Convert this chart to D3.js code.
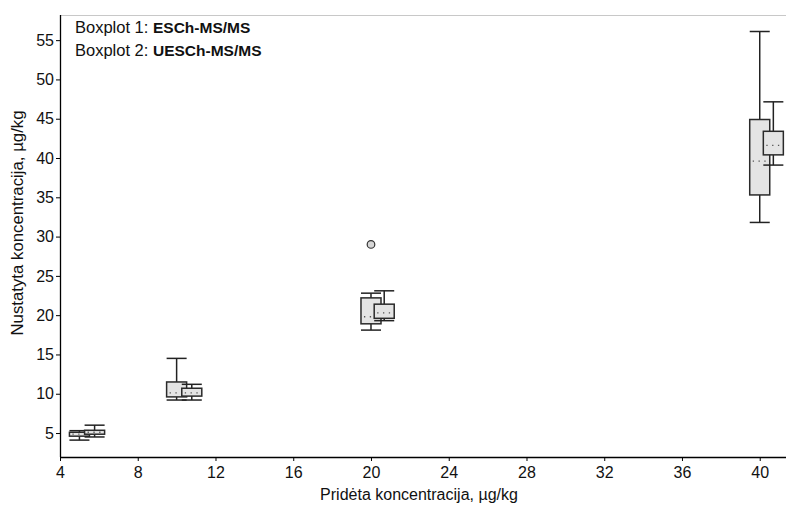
<!DOCTYPE html>
<html>
<head>
<meta charset="utf-8">
<script src="https://cdn.jsdelivr.net/npm/d3@7/dist/d3.min.js"></script>
<style>
  html, body { margin: 0; padding: 0; background: #fff; }
  svg { display: block; font-family: "Liberation Sans", Arial, sans-serif; }
</style>
</head>
<body>
<svg id="chart" width="786" height="507"></svg>
<script>
// Spiked concentration levels (µg/kg) and where each method's box sits on the x axis
const spikedLevels = [5, 10, 20, 40];
const positionsESCh = [5, 10, 20, 40];
const positionsUESCh = [5.78, 10.78, 20.68, 40.7];

// Five-number summaries: [lower whisker, Q1, median, Q3, upper whisker]
const statsESCh = [
  [4.1, 4.6, 4.85, 5.1, 5.3],
  [9.2, 9.6, 10.1, 11.5, 14.5],
  [18.1, 18.9, 19.8, 22.2, 22.8],
  [31.8, 35.3, 39.6, 44.9, 56.1]
];
const statsUESCh = [
  [4.5, 4.85, 5.1, 5.35, 6.0],
  [9.2, 9.7, 10.1, 10.7, 11.2],
  [19.3, 19.6, 20.3, 21.4, 23.1],
  [39.1, 40.4, 41.6, 43.4, 47.15]
];
// Outliers: [x position, value]
const outliersESCh = [[20, 29.0]];
const outliersUESCh = [];

const xTicks = [4, 8, 12, 16, 20, 24, 28, 32, 36, 40];
const yTicks = [5, 10, 15, 20, 25, 30, 35, 40, 45, 50, 55];

const svg = d3.select("#chart");
const plotLeft = 60, plotRight = 785, plotTop = 15, plotBottom = 457;

const x = d3.scaleLinear().domain([4, 41.3]).range([plotLeft, plotRight]);
const y = d3.scaleLinear().domain([1.95, 58.2]).range([plotBottom, plotTop]);

const boxW = x(4 + 1.03) - x(4);

// Light frame line along the top of the plot
svg.append("line")
  .attr("x1", plotLeft).attr("x2", 786)
  .attr("y1", plotTop + 0.5).attr("y2", plotTop + 0.5)
  .attr("stroke", "#c8c8c8").attr("stroke-width", 1);

// Axes
const xAxis = svg.append("g")
  .attr("transform", `translate(0,${plotBottom})`)
  .call(d3.axisBottom(x).tickValues(xTicks).tickSize(4).tickSizeOuter(0));
const yAxis = svg.append("g")
  .attr("transform", `translate(${plotLeft},0)`)
  .call(d3.axisLeft(y).tickValues(yTicks).tickSize(4).tickSizeOuter(0));

[xAxis, yAxis].forEach(a => {
  a.select(".domain").attr("stroke", "#000").attr("stroke-width", 1.3);
  a.selectAll(".tick line").attr("stroke", "#000");
  a.selectAll(".tick text")
    .attr("fill", "#111")
    .style("font-size", "16px")
    .style("font-family", "'Liberation Sans', Arial, sans-serif");
});
xAxis.selectAll(".tick text").attr("dy", "0.85em");
yAxis.selectAll(".tick text").attr("x", -6);
yAxis.select(".domain").attr("d", `M0.5,${plotTop}V${plotBottom}`);
xAxis.select(".domain").attr("d", `M${plotLeft},0.5H786`);

// Axis titles
svg.append("text")
  .attr("x", 419).attr("y", 500)
  .attr("text-anchor", "middle")
  .style("font-size", "16px").attr("fill", "#111")
  .text("Pridėta koncentracija, µg/kg");
svg.append("text")
  .attr("transform", `translate(23,223) rotate(-90)`)
  .attr("text-anchor", "middle")
  .style("font-size", "16.8px").attr("fill", "#111")
  .text("Nustatyta koncentracija, µg/kg");

// One box-and-whisker per level
function drawBoxes(positions, stats, outliers) {
  const g = svg.append("g");
  positions.forEach((px, i) => {
    const [lo, q1, med, q3, hi] = stats[i];
    const cx = x(px);
    const bg = g.append("g");
    // whisker stems
    bg.append("line").attr("x1", cx).attr("x2", cx)
      .attr("y1", y(hi)).attr("y2", y(q3))
      .attr("stroke", "#222").attr("stroke-width", 1.5);
    bg.append("line").attr("x1", cx).attr("x2", cx)
      .attr("y1", y(q1)).attr("y2", y(lo))
      .attr("stroke", "#222").attr("stroke-width", 1.5);
    // caps
    [lo, hi].forEach(v => {
      bg.append("line")
        .attr("x1", cx - boxW / 2).attr("x2", cx + boxW / 2)
        .attr("y1", y(v)).attr("y2", y(v))
        .attr("stroke", "#222").attr("stroke-width", 1.5);
    });
    // box
    bg.append("rect")
      .attr("x", cx - boxW / 2).attr("width", boxW)
      .attr("y", y(q3)).attr("height", Math.max(1, y(q1) - y(q3)))
      .attr("fill", "#e4e4e4").attr("stroke", "#2a2a2a").attr("stroke-width", 1.5);
    // median as a dotted line
    bg.append("line")
      .attr("x1", cx - boxW / 2 + 3).attr("x2", cx + boxW / 2 - 2)
      .attr("y1", y(med)).attr("y2", y(med))
      .attr("stroke", "#555").attr("stroke-width", 1.3)
      .attr("stroke-dasharray", "1.3,4.5");
  });
  outliers.forEach(([px, v]) => {
    g.append("circle")
      .attr("cx", x(px)).attr("cy", y(v)).attr("r", 3.8)
      .attr("fill", "#d6d6d6").attr("stroke", "#333").attr("stroke-width", 1.2);
  });
}
drawBoxes(positionsESCh, statsESCh, outliersESCh);
drawBoxes(positionsUESCh, statsUESCh, outliersUESCh);

// Legend naming the two methods
const legend = [["Boxplot 1:", "ESCh-MS/MS"], ["Boxplot 2:", "UESCh-MS/MS"]];
legend.forEach(([lab, name], i) => {
  const t = svg.append("text")
    .attr("x", 75).attr("y", 33 + i * 22.5)
    .style("font-size", "16.5px").attr("fill", "#111");
  t.append("tspan").text(lab);
  t.append("tspan").attr("x", 153).style("font-weight", "bold").style("font-size", "15.5px").text(name);
});
</script>
</body>
</html>
